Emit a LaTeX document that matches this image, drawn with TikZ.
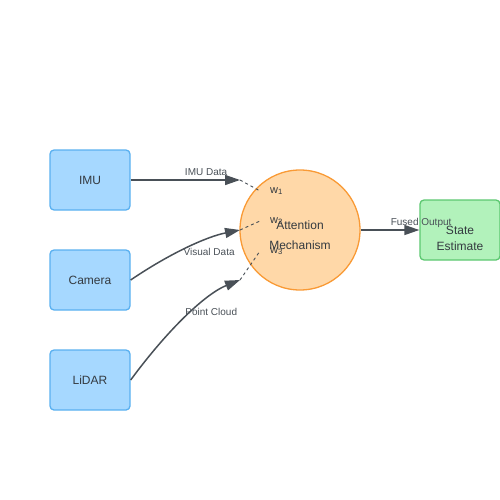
\documentclass[tikz,border=0pt]{standalone}
\usepackage{fontspec}
\setmainfont{Liberation Sans}
\usetikzlibrary{arrows.meta}
\definecolor{boxfill}{HTML}{A6D8FF}
\definecolor{boxline}{HTML}{5AB0F0}
\definecolor{attnfill}{HTML}{FFD8A8}
\definecolor{attnline}{HTML}{F99A35}
\definecolor{statefill}{HTML}{B2F2BB}
\definecolor{stateline}{HTML}{5CC870}
\definecolor{wire}{HTML}{495057}
\definecolor{txt}{HTML}{343A40}
\tikzset{
  sensor/.style={draw=boxline, fill=boxfill, line width=1.3pt, rounded corners=4pt,
    minimum width=80pt, minimum height=60pt, text=txt, font=\fontsize{12}{14}\selectfont},
  attnnode/.style={circle, draw=attnline, fill=attnfill, line width=1.3pt, minimum size=120pt},
  outbox/.style={draw=stateline, fill=statefill, line width=1.3pt, rounded corners=4pt,
    minimum width=80pt, minimum height=60pt},
  flow/.style={draw=wire, line width=1.5pt, -{Triangle[length=15pt,width=10pt]}},
  weightline/.style={draw=wire, line width=0.9pt, dash pattern=on 3pt off 3pt},
  elabel/.style={text=wire, font=\fontsize{10}{12}\selectfont},
  wlabel/.style={text=txt, font=\fontsize{11}{13}\selectfont, anchor=west, inner xsep=10pt, inner ysep=0pt}
}
\begin{document}
\begin{tikzpicture}[x=1pt,y=-1pt]
  \useasboundingbox (0,0) rectangle (500,500);
  % sensors
  \node[sensor] (imu) at (90,180) {IMU};
  \node[sensor] (camera) at (90,280) {Camera};
  \node[sensor] (lidar) at (90,380) {LiDAR};
  % fusion
  \node[attnnode, label={[yshift=-5pt, text=txt, align=center, font=\fontsize{12}{20}\selectfont]center:{Attention\\Mechanism}}] (attn) at (300,230) {};
  \node[outbox, label={[yshift=-8pt, text=txt, align=center, font=\fontsize{12}{16}\selectfont]center:{State\\Estimate}}] (state) at (460,230) {};
  \coordinate (in1) at (240,180);
  \coordinate (in2) at (240,230);
  \coordinate (in3) at (240,280);
  % inputs
  \draw[flow] (imu) -- node[elabel, pos=0.69, above] {IMU Data} (in1);
  \draw[flow] (camera.east) .. controls (170,253.3) and (206.7,236.7) .. node[elabel, pos=0.7, below=5pt] {Visual Data} (in2);
  \draw[flow] (lidar.east) .. controls (170,326.7) and (206.7,293.3) .. node[elabel, pos=0.72, below=8pt] {Point Cloud} (in3);
  \draw[flow] (attn) -- node[elabel, pos=1.03, above=-2pt] {Fused Output} (state);
  % weights
  \node[wlabel] (w1) at (260,191) {w\textsubscript{1}};
  \node[wlabel] (w2) at (260,221) {w\textsubscript{2}};
  \node[wlabel] (w3) at (260,251) {w\textsubscript{3}};
  \draw[weightline] (in1) -- (w1.west);
  \draw[weightline] (in2) -- (w2.west);
  \draw[weightline] (in3) -- (w3.west);
\end{tikzpicture}
\end{document}
